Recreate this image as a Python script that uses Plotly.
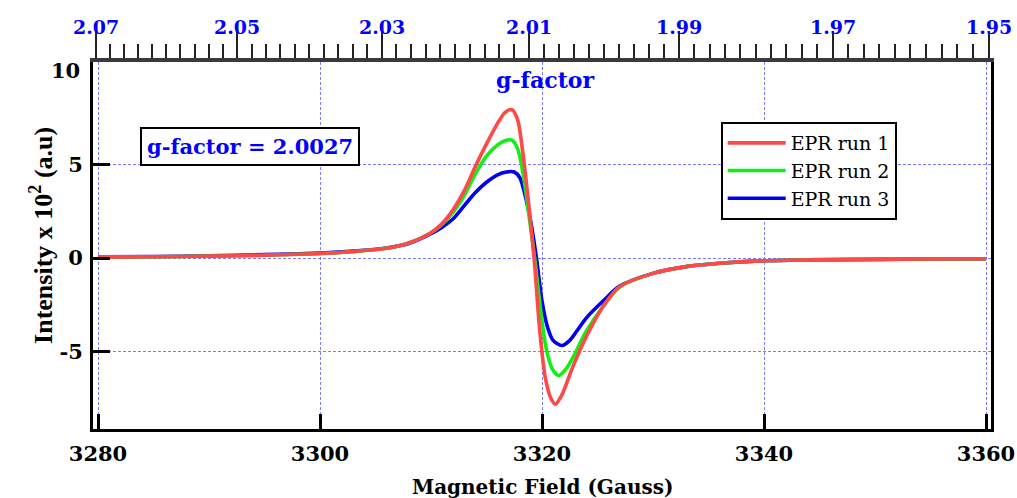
import plotly.graph_objects as go

# ---------------- data ----------------
field_red = [3280, 3285, 3290, 3295, 3300, 3303, 3306, 3308, 3310, 3311, 3312, 3313, 3314, 3315, 3316,
             3316.7, 3317.3, 3317.8, 3318.3, 3318.8, 3319.3, 3319.8, 3320.3, 3320.8, 3321.2, 3321.8,
             3322.8, 3324.0, 3325.5, 3327.0, 3330.0, 3333.0, 3336.0, 3339.6, 3344, 3350, 3355, 3360]
epr_run1 = [0.05, 0.07, 0.10, 0.15, 0.24, 0.35, 0.52, 0.80, 1.35, 1.85, 2.6, 3.6, 4.9, 6.1, 7.2,
            7.8, 7.93, 7.4, 5.5, 2.9, -0.1, -3.9, -6.4, -7.5, -7.82, -7.3,
            -5.78, -4.19, -2.59, -1.53, -0.82, -0.46, -0.28, -0.15, -0.1, -0.07, -0.05, -0.04]

field_green = [3280, 3285, 3290, 3295, 3300, 3303, 3306, 3308, 3310, 3311, 3312, 3313, 3314, 3315, 3316,
               3316.7, 3317.3, 3317.8, 3318.3, 3318.8, 3319.4, 3319.9, 3320.4, 3320.9, 3321.5, 3322.2,
               3322.8, 3324.0, 3325.5, 3327.0, 3330.0, 3333.0, 3336.0, 3339.6, 3344, 3350, 3355, 3360]
epr_run2 = [0.05, 0.07, 0.10, 0.15, 0.24, 0.35, 0.52, 0.80, 1.35, 1.8, 2.45, 3.35, 4.5, 5.45, 6.05,
            6.28, 6.3, 5.85, 4.5, 2.4, -0.3, -2.9, -4.9, -5.9, -6.28, -5.9,
            -5.3, -3.9, -2.59, -1.55, -0.82, -0.46, -0.28, -0.15, -0.1, -0.07, -0.05, -0.04]

field_blue = [3280, 3285, 3290, 3295, 3300, 3303, 3306, 3308, 3310, 3311, 3312, 3313, 3314, 3315, 3316,
              3316.8, 3317.5, 3318.0, 3318.5, 3319.0, 3319.5, 3320.0, 3320.5, 3321.0, 3321.8, 3322.5,
              3323.2, 3324.0, 3325.5, 3327.0, 3330.0, 3333.0, 3336.0, 3339.6, 3344, 3350, 3355, 3360]
epr_run3 = [0.06, 0.08, 0.12, 0.18, 0.27, 0.37, 0.54, 0.78, 1.3, 1.65, 2.1, 2.8, 3.5, 4.05, 4.45,
            4.6, 4.6, 4.3, 3.3, 1.9, 0.0, -2.3, -3.7, -4.4, -4.68, -4.4,
            -3.85, -3.2, -2.3, -1.5, -0.82, -0.46, -0.28, -0.15, -0.1, -0.07, -0.05, -0.04]

field_ticks = [3280, 3300, 3320, 3340, 3360]
intensity_ticks = [-5, 0, 5]
intensity_labels = ["-5", "0", "5"]
g_major = [2.07, 2.05, 2.03, 2.01, 1.99, 1.97, 1.95]
g_minor = [round(2.07 - 0.002 * i, 3) for i in range(61)]
g_value_text = "g-factor = 2.0027"

# ---------------- figure ----------------
SERIF = "DejaVu Serif"
TIMES = "Liberation Serif"
grid_col = "#7b7bff"

fig = go.Figure()
series = [("EPR run 3", field_blue, epr_run3, "#0000ee"),
          ("EPR run 2", field_green, epr_run2, "#14ee14"),
          ("EPR run 1", field_red, epr_run1, "#ff4848")]
for name, xs, ys, col in series:
    fig.add_trace(go.Scatter(x=xs, y=ys, name=name, mode="lines",
                             line=dict(color=col, width=3.6, shape="spline", smoothing=0.8)))

# invisible trace to carry the top g-factor axis
inv_g = [1 / g for g in g_major]
fig.add_trace(go.Scatter(x=[inv_g[0], inv_g[-1]], y=[0, 0], xaxis="x2", yaxis="y",
                         mode="lines", line=dict(color="rgba(0,0,0,0)"),
                         showlegend=False, hoverinfo="skip"))

px_per_inv = (inv_g[-1] - inv_g[0]) / 893.3

fig.update_layout(
    width=1017, height=498,
    margin=dict(l=93, r=26, t=62, b=69, autoexpand=False),
    paper_bgcolor="white", plot_bgcolor="white",
    showlegend=True,
    legend=dict(x=0.699, y=0.8365, xanchor="left", yanchor="top",
                bgcolor="white", bordercolor="black", borderwidth=2,
                font=dict(family=SERIF, size=19, color="black"),
                traceorder="reversed", tracegroupgap=0, itemwidth=58),
    xaxis=dict(range=[3279.55, 3360.45], tickmode="array", tickvals=field_ticks,
               ticks="inside", ticklen=15, tickwidth=2.5, tickcolor="black",
               showline=True, linecolor="black", linewidth=2.5, mirror=False,
               showgrid=True, gridcolor=grid_col, gridwidth=1, griddash="3px,2px",
               zeroline=False, ticklabelstandoff=4, automargin=False,
               tickfont=dict(family=SERIF, size=21, color="black", weight="bold")),
    xaxis2=dict(overlaying="x", side="top", anchor="y", automargin=False,
                range=[inv_g[0] - 2.7 * px_per_inv, inv_g[-1] + 2 * px_per_inv],
                tickmode="array", tickvals=inv_g, showticklabels=False,
                ticks="outside", ticklen=27, tickwidth=2, tickcolor="#222",
                minor=dict(tickmode="array", tickvals=[1 / g for g in g_minor],
                           ticks="outside", ticklen=14, tickwidth=2, tickcolor="#222"),
                showline=True, linecolor="#3a3a3a", linewidth=4,
                showgrid=False, zeroline=False),
    yaxis=dict(range=[-9.14, 10.48], tickmode="array", tickvals=intensity_ticks,
               ticktext=intensity_labels,
               ticks="inside", ticklen=17, tickwidth=2.5, tickcolor="black",
               showline=True, linecolor="black", linewidth=3, mirror=True,
               showgrid=True, gridcolor=grid_col, gridwidth=1, griddash="3px,2px",
               zeroline=False, ticklabelstandoff=3, automargin=False,
               tickfont=dict(family=SERIF, size=21, color="black", weight="bold")),
)

# g-factor tick labels on the top axis
for g in g_major:
    fig.add_annotation(text=f"{g:.2f}", x=1 / g, xref="x2", y=1, yref="paper",
                       xanchor="center", yanchor="middle", yshift=35, showarrow=False,
                       font=dict(family=SERIF, size=19, color="#0000ff", weight="bold"))

fig.add_annotation(text="10", x=0, xref="paper", y=10, yref="y", xanchor="right",
                   yanchor="middle", xshift=-11, showarrow=False,
                   font=dict(family=SERIF, size=21, color="black", weight="bold"))
fig.add_annotation(text="Magnetic Field (Gauss)", x=0.5, xref="paper", y=-0.158, yref="paper",
                   xanchor="center", yanchor="middle", showarrow=False,
                   font=dict(family=SERIF, size=20, color="black", weight="bold"))
fig.add_annotation(text="Intensity x 10<sup>2</sup> (a.u)", x=-0.058, xref="paper", y=0.5286,
                   yref="paper", xanchor="center", yanchor="middle", textangle=-90,
                   showarrow=False,
                   font=dict(family=TIMES, size=26, color="black", weight="bold"))
fig.add_annotation(text="g-factor", x=0.503, xref="paper", y=0.951, yref="paper",
                   xanchor="center", yanchor="middle", showarrow=False,
                   font=dict(family=SERIF, size=22, color="#0000ff", weight="bold"))
fig.add_annotation(text=g_value_text, x=0.1748, xref="paper", y=0.771, yref="paper",
                   xanchor="center", yanchor="middle",
                   showarrow=False, bgcolor="white", bordercolor="black", borderwidth=2,
                   borderpad=5,
                   font=dict(family=SERIF, size=21, color="#0000ff", weight="bold"))

fig.write_html("out.html")
